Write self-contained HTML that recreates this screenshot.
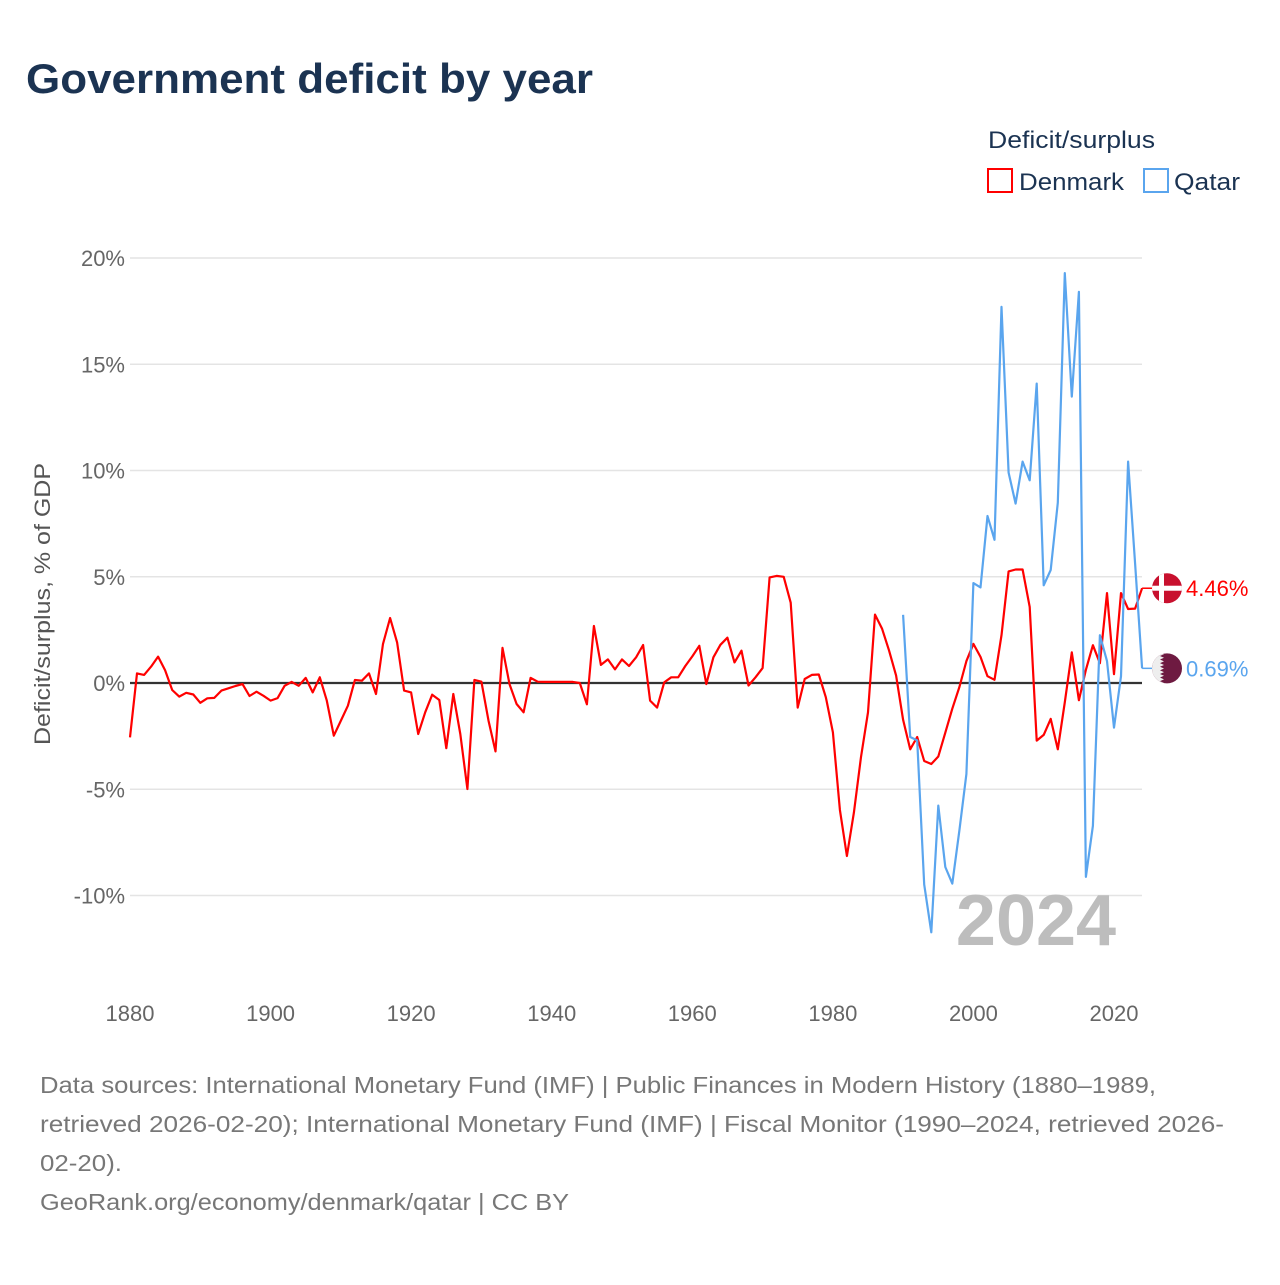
<!DOCTYPE html>
<html><head><meta charset="utf-8">
<style>
body{margin:0;background:#fff;width:1280px;height:1280px;overflow:hidden;font-family:"Liberation Sans",sans-serif}
svg text{font-family:"Liberation Sans",sans-serif}
</style></head>
<body>
<svg id="chart" width="1280" height="1280" viewBox="0 0 1280 1280">
<text x="26" y="93" font-size="42" font-weight="bold" fill="#1b3352" textLength="567" lengthAdjust="spacingAndGlyphs">Government deficit by year</text>
<g>
<text x="988" y="148" font-size="24" fill="#1b3352" textLength="167" lengthAdjust="spacingAndGlyphs">Deficit/surplus</text>
<g><rect x="988" y="169" width="24" height="23" fill="none" stroke="#f00" stroke-width="2"/><text x="1019" y="190" font-size="24" fill="#1b3352" textLength="105" lengthAdjust="spacingAndGlyphs">Denmark</text></g>
<g><rect x="1144" y="169" width="24" height="23" fill="none" stroke="#5aa5ee" stroke-width="2"/><text x="1174" y="190" font-size="24" fill="#1b3352" textLength="66" lengthAdjust="spacingAndGlyphs">Qatar</text></g>
</g>
<g id="grid"></g>
<g id="axes"></g>
<text x="1036" y="945" font-size="72" font-weight="bold" fill="#bdbdbd" text-anchor="middle">2024</text>
<g id="series"></g>
<text transform="translate(50,604) rotate(-90)" font-size="22" fill="#555" text-anchor="middle" textLength="282" lengthAdjust="spacingAndGlyphs">Deficit/surplus, % of GDP</text>
<g font-size="23" fill="#777">
<text x="40" y="1093" textLength="1116" lengthAdjust="spacingAndGlyphs">Data sources: International Monetary Fund (IMF) | Public Finances in Modern History (1880–1989,</text>
<text x="40" y="1132" textLength="1184" lengthAdjust="spacingAndGlyphs">retrieved 2026-02-20); International Monetary Fund (IMF) | Fiscal Monitor (1990–2024, retrieved 2026-</text>
<text x="40" y="1171" textLength="82" lengthAdjust="spacingAndGlyphs">02-20).</text>
<text x="40" y="1210" textLength="529" lengthAdjust="spacingAndGlyphs">GeoRank.org/economy/denmark/qatar | CC BY</text>
</g>
</svg>
<script>
const denmarkYears0 = 1880;
const denmarkValues = [-2.56,0.45,0.38,0.77,1.24,0.6,-0.33,-0.64,-0.46,-0.54,-0.93,-0.72,-0.70,-0.36,-0.25,-0.14,-0.05,-0.61,-0.41,-0.60,-0.83,-0.71,-0.13,0.05,-0.13,0.24,-0.44,0.27,-0.83,-2.48,-1.77,-1.07,0.14,0.11,0.45,-0.52,1.84,3.06,1.91,-0.36,-0.44,-2.40,-1.38,-0.55,-0.80,-3.07,-0.52,-2.4,-4.99,0.14,0.06,-1.77,-3.22,1.65,-0.05,-0.99,-1.38,0.24,0.06,0.05,0.05,0.05,0.05,0.05,0,-1.0,2.68,0.85,1.11,0.64,1.11,0.8,1.21,1.79,-0.83,-1.16,0.03,0.27,0.27,0.8,1.25,1.75,-0.05,1.21,1.8,2.13,0.97,1.52,-0.12,0.27,0.7,4.97,5.04,5.0,3.78,-1.16,0.19,0.38,0.4,-0.67,-2.32,-5.97,-8.14,-6.1,-3.48,-1.38,3.22,2.55,1.52,0.35,-1.73,-3.12,-2.54,-3.67,-3.81,-3.46,-2.34,-1.21,-0.19,1.03,1.84,1.23,0.32,0.15,2.25,5.25,5.34,5.34,3.58,-2.71,-2.44,-1.69,-3.12,-0.91,1.44,-0.81,0.62,1.78,0.93,4.23,0.42,4.23,3.48,3.5,4.46];
const qatarYears0 = 1990;
const qatarValues = [3.21,-2.54,-2.7,-9.48,-11.73,-5.77,-8.66,-9.44,-6.93,-4.28,4.7,4.5,7.86,6.74,17.7,9.9,8.44,10.42,9.54,14.09,4.6,5.32,8.48,19.29,13.48,18.41,-9.12,-6.72,2.25,1.03,-2.1,0.32,10.42,5.62,0.69];
const yTicks = [-10,-5,0,5,10,15,20];
const yTickLabels = ["-10%","-5%","0%","5%","10%","15%","20%"];
const xTicks = [1880,1900,1920,1940,1960,1980,2000,2020];

const NS="http://www.w3.org/2000/svg";
function X(yr){return 130+(yr-1880)*(984/140);}
function Y(v){return 683-v*21.25;}
function mk(tag,attrs,parent){const e=document.createElementNS(NS,tag);for(const k in attrs)e.setAttribute(k,attrs[k]);parent.appendChild(e);return e;}
const grid=document.getElementById('grid'),axes=document.getElementById('axes'),series=document.getElementById('series');
yTicks.forEach((t,i)=>{
  if(t!==0){const l=mk('line',{x1:130,x2:1142,y1:Y(t),y2:Y(t),stroke:'#e4e4e4','stroke-width':1.5},grid);
  
  }
  const tx=mk('text',{x:125,y:Y(t)+8,'font-size':22,fill:'#666','text-anchor':'end'},axes);
  tx.textContent=yTickLabels[i];
  
  
});
xTicks.forEach(t=>{
  const tx=mk('text',{x:X(t),y:1021,'font-size':22,fill:'#666','text-anchor':'middle'},axes);
  tx.textContent=t;
  
  
});
const zl=mk('line',{x1:130,x2:1142,y1:Y(0),y2:Y(0),stroke:'#333','stroke-width':2.2},axes);


function drawSeries(y0,vals,color,name){
  const pts=vals.map((v,i)=>X(y0+i).toFixed(1)+','+Y(v).toFixed(1)).join(' ');
  const p=mk('polyline',{points:pts,fill:'none',stroke:color,'stroke-width':2.2,'stroke-linejoin':'round'},series);
  
  
  const last=vals[vals.length-1];
  const c=mk('line',{x1:X(y0+vals.length-1),x2:1152,y1:Y(last),y2:Y(last),stroke:color,'stroke-width':1.5},series);
  
  
  return last;
}
const dl=drawSeries(denmarkYears0,denmarkValues,'#f00','denmark');
const ql=drawSeries(qatarYears0,qatarValues,'#5aa5ee','qatar');
const dy=Y(dl),qy=Y(ql);
const df=mk('g',{},series);


mk('clipPath',{id:'cd'},df);
mk('circle',{cx:1167,cy:dy,r:15},document.getElementById('cd'));
const dg=mk('g',{'clip-path':'url(#cd)'},df);
mk('rect',{x:1150,y:dy-16,width:34,height:32,fill:'#c8102e'},dg);
mk('rect',{x:1150,y:dy-2.5,width:34,height:5,fill:'#fff'},dg);
mk('rect',{x:1159,y:dy-16,width:5,height:32,fill:'#fff'},dg);
const qf=mk('g',{},series);


mk('clipPath',{id:'cq'},qf);
mk('circle',{cx:1167,cy:qy,r:15},document.getElementById('cq'));
const qg=mk('g',{'clip-path':'url(#cq)'},qf);
mk('rect',{x:1150,y:qy-16,width:34,height:32,fill:'#6e1a41'},qg);
let zz='1150,'+(qy-16)+' ';
for(let k=0;k<9;k++){const yy=qy-16+k*3.6;zz+='1160,'+yy+' 1164,'+(yy+1.8)+' ';}
zz+='1160,'+(qy+16)+' 1150,'+(qy+16);
mk('polygon',{points:zz,fill:'#eee'},qg);
const dlab=mk('text',{x:1186,y:dy+8,'font-size':22,fill:'#f00'},series);
dlab.textContent=dl.toFixed(2)+'%';


const qlab=mk('text',{x:1186,y:qy+8,'font-size':22,fill:'#5aa5ee'},series);
qlab.textContent=ql.toFixed(2)+'%';


</script>
</body></html>
